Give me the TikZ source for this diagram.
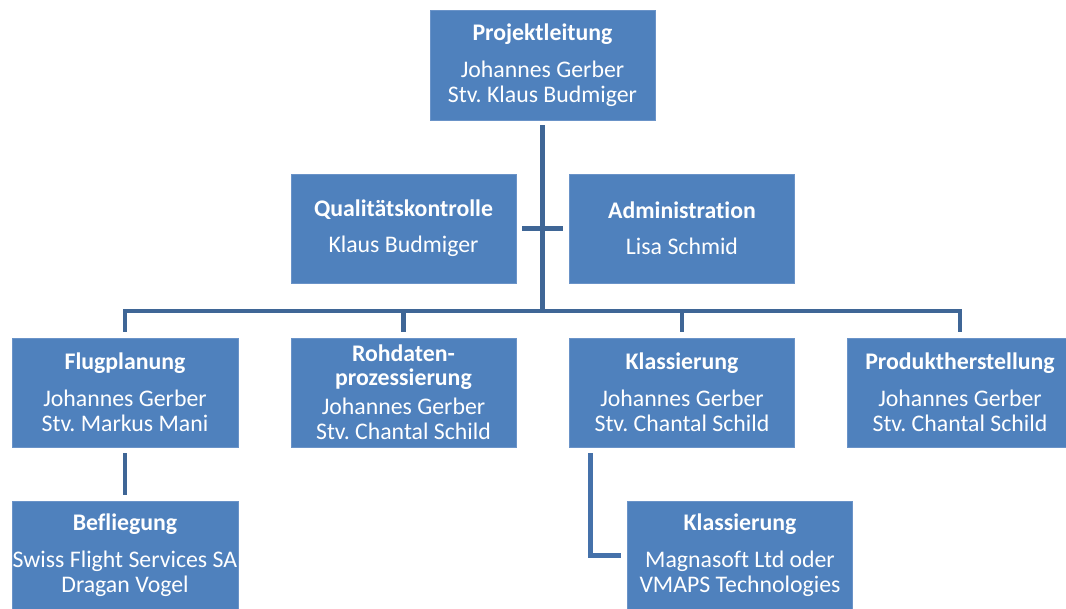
\documentclass[tikz,border=0pt]{standalone}
\usepackage{fontspec}
\setmainfont{Carlito}[Ligatures={NoCommon}]
\frenchspacing
\definecolor{boxblue}{HTML}{4F81BD}
\definecolor{boxedge}{HTML}{6A93C8}
\definecolor{linkblue}{HTML}{3F6696}
\definecolor{linkblue2}{HTML}{4571AA}
\begin{document}
\begin{tikzpicture}[x=1pt,y=-1pt,
  box/.style={rectangle, fill=boxblue, draw=boxedge, line width=0.6pt, text=white,
    inner sep=0pt, minimum width=225pt, minimum height=109pt, align=center,
    font=\fontsize{23.8}{25}\selectfont\frenchspacing},
  conn/.style={draw=linkblue, line width=4.6pt},
  conntwo/.style={draw=linkblue2, line width=4.6pt}]
\useasboundingbox (0,0) rectangle (1066,608);

% boxes
\node[box, minimum height=110pt] (P) at (542.5,65)
  {\textbf{Projektleitung}\\[12pt]Johannes Gerber\\Stv. Klaus Budmiger};
\node[box] (Q) at (403.5,228.5)
  {\textbf{Qualitätskontrolle}\\[11pt]Klaus Budmiger};
\node[box] (A) at (682,228.5)
  {\textbf{Administration}\\[11pt]Lisa Schmid};
\node[box, minimum width=226pt] (F) at (125,392.5)
  {\textbf{Flugplanung}\\[12pt]Johannes Gerber\\Stv. Markus Mani};
\node[box] (R) at (403.5,392.5)
  {\textbf{Rohdaten-}\\[-1pt]\textbf{prozessierung}\\[4pt]Johannes Gerber\\Stv. Chantal Schild};
\node[box] (K) at (682,392.5)
  {\textbf{Klassierung}\\[12pt]Johannes Gerber\\Stv. Chantal Schild};
\node[box] (Pr) at (960,392.5)
  {\textbf{Produktherstellung}\\[12pt]Johannes Gerber\\Stv. Chantal Schild};
\node[box, minimum width=226pt] (B) at (125,555.5)
  {\textbf{Befliegung}\\[12pt]Swiss Flight Services SA\\Dragan Vogel};
\node[box] (K2) at (740,555.5)
  {\textbf{Klassierung}\\[12pt]Magnasoft Ltd oder\\VMAPS Technologies};

% connectors
\coordinate (bus) at (542.5,311);
\coordinate (kk) at (590.7,0);
\draw[conn, shorten <=5pt] (P.south) -- (bus);
\draw[conn, shorten <=6pt, shorten >=6pt] (F.north) -- (F.north |- bus) -- (Pr.north |- bus) -- (Pr.north);
\draw[conn, shorten >=6pt] (R.north |- bus) -- (R.north);
\draw[conn, shorten >=6pt] (K.north |- bus) -- (K.north);
\draw[conn, shorten <=5.7pt, shorten >=6pt] (Q.east) -- (A.west);
\draw[conn, shorten <=6pt, shorten >=6pt] (F.south) -- (B.north);
\draw[conntwo, shorten <=6pt, shorten >=6pt] (K.south -| kk) -- (kk |- K2.west) -- (K2.west);
\end{tikzpicture}
\end{document}
